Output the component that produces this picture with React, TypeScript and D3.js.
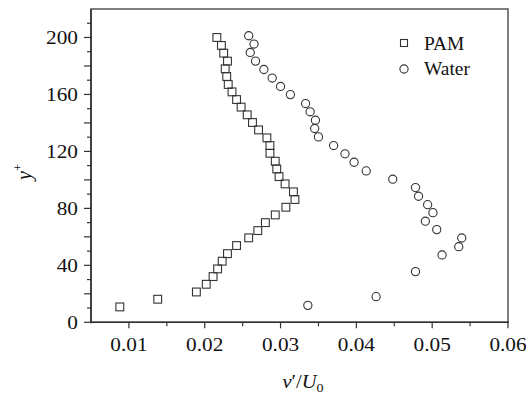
import React from "react";
import * as d3 from "d3";

const pamX = [0.0216,0.0222,0.0225,0.0230,0.0227,0.0229,0.0231,0.0236,0.0242,0.0248,0.0256,0.0263,0.0271,0.0282,0.0286,0.0286,0.0293,0.0295,0.0298,0.0306,0.0317,0.0319,0.0307,0.0293,0.0280,0.0270,0.0258,0.0242,0.0230,0.0223,0.0217,0.0211,0.0202,0.0189,0.0138,0.0088];
const pamY = [200,194.4,189,183.4,178,172.6,167,161.8,156.4,151.1,145.7,140.3,135.1,129.5,124.1,118.7,113.1,107.7,102.3,97.2,91.6,86.2,80.8,75.4,70,64.4,59.3,53.9,48.2,42.9,37.5,32.1,26.7,21.3,16.2,10.8];
const waterX = [0.0258,0.0265,0.0260,0.0267,0.0278,0.0289,0.0300,0.0313,0.0333,0.0339,0.0346,0.0345,0.0350,0.0370,0.0385,0.0397,0.0413,0.0448,0.0478,0.0482,0.0494,0.0501,0.0491,0.0506,0.0539,0.0535,0.0513,0.0478,0.0426,0.0336];
const waterY = [201.2,195.4,189.5,183.4,177.5,171.5,165.6,159.9,153.6,147.8,141.9,136.1,130.2,124.1,118.3,112.4,106.3,100.5,94.6,88.5,82.6,77.0,71.0,65.1,59.2,53.1,47.3,35.6,18.0,11.9];

const xTickLabels = [0.01, 0.02, 0.03, 0.04, 0.05, 0.06];
const yTickLabels = [0, 40, 80, 120, 160, 200];
const seriesNames = ["PAM", "Water"];

const W = 526, H = 396;
const L = 91, R = 508, T = 9, B = 322.3;
const FONT = "Liberation Serif, serif";
const MARK = "#333";

export default function App() {
  const x = d3.scaleLinear().domain([0.005, 0.06]).range([L, R]);
  const y = d3.scaleLinear().domain([0, 220]).range([B, T]);
  const xMinor = d3.range(0, 12).map((i) => 0.005 + i * 0.005).filter((v) => v > 0.0051 && v < 0.0601);
  const yMinor = d3.range(0, 22).map((i) => i * 10);
  const sq = 7.8;
  const cr = 4.1;
  const ts = { fontFamily: FONT } as React.CSSProperties;
  return (
    <svg width={W} height={H} style={{ position: "absolute", left: 0, top: 0, background: "#fff", fontFamily: FONT }}>
      <rect x={0} y={0} width={W} height={H} fill="#fff" />
      <rect x={L} y={T} width={R - L} height={B - T} fill="none" stroke="#555" strokeWidth={1.5} />
      {yMinor.map((v) => (
        <line key={"yt" + v} x1={L - (v % 20 === 0 ? 7 : 4)} x2={L} y1={y(v)} y2={y(v)} stroke="#333" strokeWidth={1.2} />
      ))}
      {xMinor.map((v, i) => (
        <line key={"xt" + i} x1={x(v)} x2={x(v)} y1={B} y2={B + (Math.abs(v * 100 - Math.round(v * 100)) < 1e-6 ? 6 : 4)} stroke="#333" strokeWidth={1.2} />
      ))}
      <line x1={L} x2={L} y1={T} y2={B + 1} stroke="#333" strokeWidth={1.6} />
      <line x1={L} x2={R + 1} y1={B} y2={B} stroke="#333" strokeWidth={1.6} />
      {yTickLabels.map((v) => (
        <text key={"yl" + v} style={ts} transform={`translate(${L - 13},${y(v) + 6.5}) scale(1.12,1)`} textAnchor="end" fontSize={19} fill="#111">
          {v}
        </text>
      ))}
      {xTickLabels.map((v) => (
        <text key={"xl" + v} style={ts} transform={`translate(${x(v)},${351}) scale(1.12,1)`} textAnchor="middle" fontSize={19} fill="#111">
          {v.toFixed(2)}
        </text>
      ))}
      <text style={ts} transform={`translate(303,388) scale(1.08,1)`} textAnchor="middle" fontSize={19} fill="#111">
        <tspan fontStyle="italic">v</tspan>
        <tspan>′/</tspan>
        <tspan fontStyle="italic">U</tspan>
        <tspan fontSize={13} dy={4}>0</tspan>
      </text>
      <text style={ts} transform={`translate(31,172) rotate(-90)`} textAnchor="middle" fontSize={20} fill="#111">
        <tspan fontStyle="italic">y</tspan>
        <tspan fontSize={13} dy={-9}>+</tspan>
      </text>
      {pamX.map((v, i) => (
        <rect key={"p" + i} x={x(v) - sq / 2} y={y(pamY[i]) - sq / 2} width={sq} height={sq} fill="none" stroke={MARK} strokeWidth={1.1} />
      ))}
      {waterX.map((v, i) => (
        <circle key={"w" + i} cx={x(v)} cy={y(waterY[i])} r={cr} fill="none" stroke={MARK} strokeWidth={1.1} />
      ))}
      <rect x={404 - 3.5} y={43 - 3.5} width={7} height={7} fill="none" stroke={MARK} strokeWidth={1.1} />
      <text style={ts} transform="translate(424,50) scale(1.08,1)" fontSize={18} fill="#111">{seriesNames[0]}</text>
      <circle cx={404} cy={69} r={cr} fill="none" stroke={MARK} strokeWidth={1.1} />
      <text style={ts} transform="translate(424,75) scale(1.08,1)" fontSize={18} fill="#111">{seriesNames[1]}</text>
    </svg>
  );
}
